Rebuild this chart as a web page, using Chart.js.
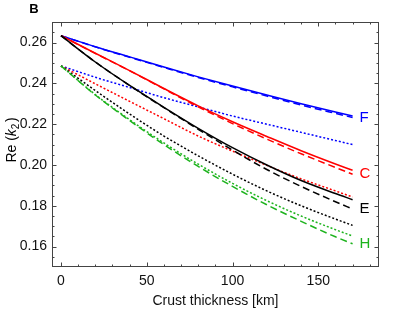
<!DOCTYPE html>
<html>
<head>
<meta charset="utf-8">
<script src="https://cdn.jsdelivr.net/npm/chart.js@4.4.1/dist/chart.umd.min.js"></script>
<style>
  html, body { margin: 0; padding: 0; background: #fff; }
</style>
</head>
<body>
<canvas id="chart" width="403" height="310"></canvas>
<script>
// crust thickness (km) at which the curves are sampled
const thickness = [0, 20, 40, 60, 80, 100, 120, 140, 160, 170];

// Re(k2) for each model: solid / dashed / dotted
const fSolid  = [0.2634, 0.2580, 0.2530, 0.2480, 0.2432, 0.2387, 0.2343, 0.2300, 0.2260, 0.2240];
const fDashed = [0.2634, 0.2579, 0.2528, 0.2478, 0.2429, 0.2383, 0.2338, 0.2294, 0.2253, 0.2233];
const fDotted = [0.2486, 0.2430, 0.2380, 0.2330, 0.2285, 0.2240, 0.2200, 0.2160, 0.2120, 0.2100];

const cSolid  = [0.2634, 0.2548, 0.2463, 0.2375, 0.2290, 0.2212, 0.2140, 0.2070, 0.2005, 0.1974];
const cDashed = [0.2634, 0.2547, 0.2462, 0.2373, 0.2285, 0.2203, 0.2127, 0.2055, 0.1988, 0.1955];
const cDotted = [0.2486, 0.2398, 0.2312, 0.2227, 0.2142, 0.2068, 0.1998, 0.1932, 0.1873, 0.1843];

const eSolid  = [0.2634, 0.2505, 0.2390, 0.2283, 0.2180, 0.2085, 0.2000, 0.1924, 0.1860, 0.1830];
const eDashed = [0.2634, 0.2505, 0.2390, 0.2281, 0.2175, 0.2073, 0.1978, 0.1895, 0.1820, 0.1784];
const eDotted = [0.2486, 0.2365, 0.2250, 0.2142, 0.2045, 0.1955, 0.1873, 0.1800, 0.1735, 0.1704];

const hDashed = [0.2486, 0.2343, 0.2218, 0.2100, 0.1993, 0.1895, 0.1805, 0.1724, 0.1648, 0.1614];
const hDotted = [0.2486, 0.2345, 0.2222, 0.2108, 0.2004, 0.1910, 0.1825, 0.1750, 0.1683, 0.1652];

const xTicks = [0, 50, 100, 150];
const yTicks = [0.16, 0.18, 0.20, 0.22, 0.24, 0.26];

const endLabels = [
  { text: 'F', color: '#0000ff', series: fDashed },
  { text: 'C', color: '#ff0000', series: cDashed },
  { text: 'E', color: '#000000', series: eDashed },
  { text: 'H', color: '#1db31d', series: hDashed },
];

const FONT = '"Liberation Sans", Arial, sans-serif';

function line(values, color, dash) {
  return {
    data: values.map((v, i) => ({ x: thickness[i], y: v })),
    borderColor: color,
    borderWidth: 1.5,
    borderDash: dash,
    pointRadius: 0,
    fill: false,
    cubicInterpolationMode: 'monotone'
  };
}

const DASH = [7, 4];
const DOT = [2, 2];

// frame with inside ticks on all four sides, like the original
const framePlugin = {
  id: 'frame',
  afterDraw(chart) {
    const { ctx, chartArea: a, scales } = chart;
    const xs = scales.x, ys = scales.y;
    ctx.save();
    ctx.strokeStyle = '#444';
    ctx.lineWidth = 1;
    ctx.strokeRect(a.left + 0.5, a.top + 0.5, a.right - a.left - 1, a.bottom - a.top - 1);
    ctx.beginPath();
    for (let v = -10; v <= 190; v += 10) {
      const px = Math.round(xs.getPixelForValue(v)) + 0.5;
      if (px <= a.left + 1 || px >= a.right - 1) continue;
      const len = v % 50 === 0 ? 4.5 : 2.5;
      ctx.moveTo(px, a.bottom); ctx.lineTo(px, a.bottom - len);
      ctx.moveTo(px, a.top); ctx.lineTo(px, a.top + len);
    }
    for (let k = 150; k <= 270; k += 5) {
      const py = Math.round(ys.getPixelForValue(k / 1000)) + 0.5;
      if (py <= a.top + 1 || py >= a.bottom - 1) continue;
      const len = k % 20 === 0 ? 4.5 : 2.5;
      ctx.moveTo(a.left, py); ctx.lineTo(a.left + len, py);
      ctx.moveTo(a.right, py); ctx.lineTo(a.right - len, py);
    }
    ctx.stroke();

    // curve labels at the right end
    ctx.textBaseline = 'middle';
    ctx.textAlign = 'left';
    ctx.font = '15px ' + FONT;
    endLabels.forEach(l => {
      const last = l.series[l.series.length - 1];
      ctx.fillStyle = l.color;
      ctx.fillText(l.text, xs.getPixelForValue(170) + 7, ys.getPixelForValue(last));
    });

    // panel letter
    ctx.fillStyle = '#000';
    ctx.font = 'bold 13px ' + FONT;
    ctx.textAlign = 'center';
    ctx.fillText('B', 34, 9);

    // y axis title: Re (k2) with italic k and subscript 2
    ctx.textBaseline = 'alphabetic';
    ctx.translate(16, 140);
    ctx.rotate(-Math.PI / 2);
    const parts = [
      { t: 'Re (', f: '14px ' + FONT, dy: 0 },
      { t: 'k', f: 'italic 14px ' + FONT, dy: 0 },
      { t: '2', f: '10px ' + FONT, dy: 3 },
      { t: ')', f: '14px ' + FONT, dy: 0 },
    ];
    let total = 0;
    parts.forEach(p => { ctx.font = p.f; total += ctx.measureText(p.t).width + (p.t === '2' ? 1.5 : 0); });
    let x = -total / 2;
    ctx.textAlign = 'left';
    parts.forEach(p => {
      ctx.font = p.f;
      ctx.fillText(p.t, x, p.dy);
      x += ctx.measureText(p.t).width + (p.t === '2' ? 1.5 : 0);
    });
    ctx.restore();
  }
};

new Chart(document.getElementById('chart').getContext('2d'), {
  type: 'line',
  data: {
    datasets: [
      line(hDotted, '#1db31d', DOT),
      line(hDashed, '#1db31d', DASH),
      line(eDotted, '#000000', DOT),
      line(eDashed, '#000000', DASH),
      line(eSolid, '#000000', []),
      line(cDotted, '#ff0000', DOT),
      line(cDashed, '#ff0000', DASH),
      line(cSolid, '#ff0000', []),
      line(fDotted, '#0000ff', DOT),
      line(fDashed, '#0000ff', DASH),
      line(fSolid, '#0000ff', []),
    ]
  },
  options: {
    responsive: false,
    animation: false,
    layout: { padding: { top: 22, right: 24, left: 0, bottom: 0 } },
    plugins: { legend: { display: false }, tooltip: { enabled: false } },
    scales: {
      x: {
        type: 'linear',
        min: -5.25,
        max: 185.4,
        grid: { display: false, drawTicks: false },
        border: { display: false },
        afterBuildTicks: s => { s.ticks = xTicks.map(v => ({ value: v })); },
        afterFit: s => { s.height = 43; },
        ticks: { color: '#111', font: { family: FONT, size: 14 }, padding: 6, maxRotation: 0 },
        title: {
          display: true,
          text: 'Crust thickness [km]',
          color: '#111',
          font: { family: FONT, size: 14 },
          padding: { top: 4, bottom: 0 }
        }
      },
      y: {
        type: 'linear',
        min: 0.15,
        max: 0.2701,
        grid: { display: false, drawTicks: false },
        border: { display: false },
        afterBuildTicks: s => { s.ticks = yTicks.map(v => ({ value: v })); },
        afterFit: s => { s.width = 52; },
        ticks: {
          color: '#111',
          font: { family: FONT, size: 14 },
          padding: 5,
          callback: v => v.toFixed(2)
        }
      }
    }
  },
  plugins: [framePlugin]
});
</script>
</body>
</html>
